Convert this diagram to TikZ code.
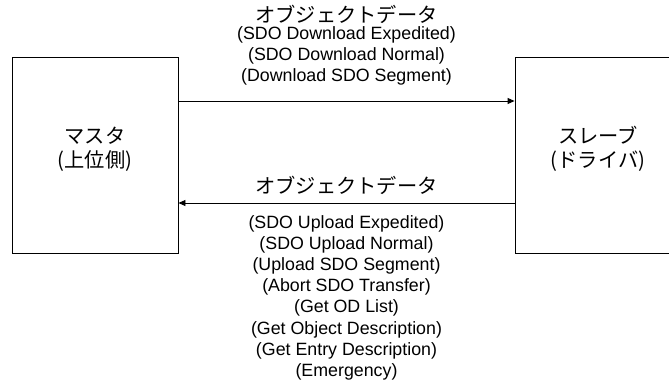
\documentclass[tikz,border=0pt]{standalone}
\usepackage{fontspec}
\setmainfont{Liberation Sans}
\newfontfamily\jpfont{Noto Sans CJK JP}[Scale=1.15]
\usetikzlibrary{positioning,arrows.meta}

\begin{document}
\begin{tikzpicture}[x=1pt, y=-1pt,
  unit/.style={rectangle, draw, minimum width=166pt, minimum height=196pt,
    inner sep=0pt, line width=0.9pt},
  unitname/.style={align=center, font=\jpfont\fontsize{17.6}{24}\selectfont},
  title/.style={font=\jpfont\fontsize{17.6}{21}\selectfont, inner sep=0pt},
  msglist/.style={align=center, font=\fontsize{17.8}{21.2}\selectfont, inner sep=0pt},
  link/.style={line width=0.9pt, -{Triangle[length=7pt,width=6pt]}}
]
\useasboundingbox (0,0) rectangle (669,383);

\node[unit] (master) at (95,155) {};
\node[unit] (slave) at (598,155) {};
\node[unitname] (mastername) at (95,149) {マスタ\\(上位側)};
\node[unitname] (slavename) at (598,149) {スレーブ\\(ドライバ)};

% master -> slave
\draw[link] ([yshift=54pt]master.east) -- node[msglist, above=15pt] (downlist)
  {(SDO Download Expedited)\\(SDO Download Normal)\\(Download SDO Segment)}
  ([yshift=54pt]slave.west);
\node[title, above=2pt of downlist] (downtitle) {オブジェクトデータ};

% slave -> master
\draw[link] ([yshift=-48pt]slave.west) -- node[title, above=8pt] (uptitle)
  {オブジェクトデータ} ([yshift=-48pt]master.east);
\node[msglist, below=12pt of uptitle.south] (uplist) at ([yshift=-8pt]uptitle.south)
  {(SDO Upload Expedited)\\(SDO Upload Normal)\\(Upload SDO Segment)\\
   (Abort SDO Transfer)\\(Get OD List)\\(Get Object Description)\\
   (Get Entry Description)\\(Emergency)};

\end{tikzpicture}
\end{document}
